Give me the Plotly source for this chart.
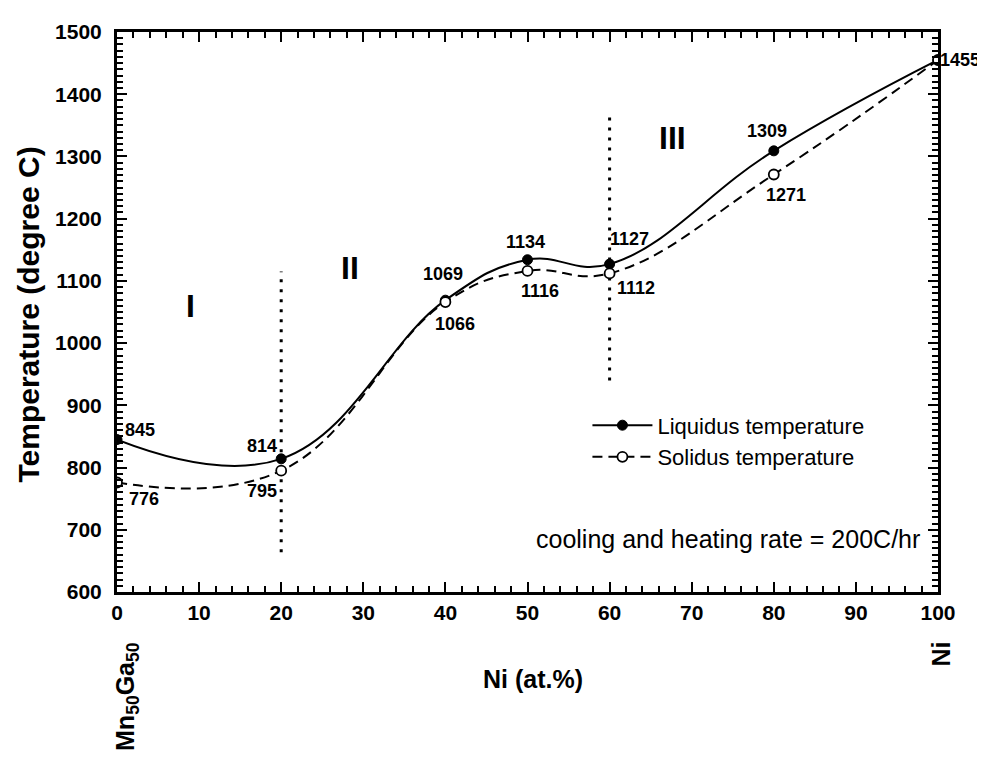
import plotly.graph_objects as go

# ---- data ----
ni_pct = [0, 20, 40, 50, 60, 80, 100]
liquidus = [845, 814, 1069, 1134, 1127, 1309, 1455]
solidus = [776, 795, 1066, 1116, 1112, 1271, 1455]

# label offsets (pixels) for value labels
liq_label_dx = [23, -19, -2, -2, 20, -7, None]
liq_label_dy = [10, 13, 26, 18, 25, 20, None]
sol_label_dx = [27, -19, 10, 12, 26, 12, 22]
sol_label_dy = [-17, -20, -22, -20, -15, -21, 0]

region_names = ["I", "II", "III"]
region_x = [8.9, 28.4, 67.6]
region_y = [1060, 1120, 1330]

divider_x = [20, 60]
divider_y0 = [664, 940]
divider_y1 = [1115, 1363]

x_ticks = [0, 10, 20, 30, 40, 50, 60, 70, 80, 90, 100]
y_ticks = [600, 700, 800, 900, 1000, 1100, 1200, 1300, 1400, 1500]

FONT = "Liberation Sans, Arial, sans-serif"

fig = go.Figure()

# divider dotted lines
for dx, y0, y1 in zip(divider_x, divider_y0, divider_y1):
    fig.add_trace(go.Scatter(
        x=[dx, dx], y=[y0, y1], mode="lines",
        line=dict(color="black", width=3, dash="3px,7px"),
        showlegend=False, hoverinfo="skip"))

fig.add_trace(go.Scatter(
    x=ni_pct, y=liquidus, mode="lines+markers", name="Liquidus temperature",
    line=dict(color="black", width=2, shape="spline", smoothing=1.2),
    marker=dict(symbol="circle", size=10, color="black",
                line=dict(color="black", width=1))))

fig.add_trace(go.Scatter(
    x=ni_pct, y=solidus, mode="lines+markers", name="Solidus temperature",
    line=dict(color="black", width=2, shape="spline", smoothing=1.2, dash="10px,6px"),
    marker=dict(symbol="circle", size=10, color="white",
                line=dict(color="black", width=1.8))))

annotations = []
for x, y, dx, dy in zip(ni_pct, liquidus, liq_label_dx, liq_label_dy):
    if dx is None:
        continue
    annotations.append(dict(x=x, y=y, xref="x", yref="y", text=str(y), showarrow=False,
                            xshift=dx, yshift=dy,
                            font=dict(family=FONT, size=18, color="black", weight="bold")))
for x, y, dx, dy in zip(ni_pct, solidus, sol_label_dx, sol_label_dy):
    annotations.append(dict(x=x, y=y, xref="x", yref="y", text=str(y), showarrow=False,
                            xshift=dx, yshift=dy,
                            font=dict(family=FONT, size=18, color="black", weight="bold")))

for name, x, y in zip(region_names, region_x, region_y):
    annotations.append(dict(x=x, y=y, xref="x", yref="y", text=name, showarrow=False,
                            font=dict(family=FONT, size=32, color="black", weight="bold")))

annotations += [
    dict(x=0.98, y=0.095, xref="paper", yref="paper", xanchor="right", yanchor="middle",
         text="cooling and heating rate = 200C/hr",
         showarrow=False, font=dict(family=FONT, size=25, color="black")),
    dict(x=-0.108, y=0.496, xref="paper", yref="paper", xanchor="center", yanchor="middle",
         text="Temperature (degree C)", textangle=-90,
         showarrow=False, font=dict(family=FONT, size=30, color="black", weight="bold")),
    dict(x=0.507, y=-0.155, xref="paper", yref="paper", xanchor="center", yanchor="middle",
         text="Ni (at.%)",
         showarrow=False, font=dict(family=FONT, size=25, color="black", weight="bold")),
    dict(x=0.012, y=-0.085, xref="paper", yref="paper", xanchor="center", yanchor="top",
         text="Mn<sub>50</sub>Ga<sub>50</sub>", textangle=-90,
         showarrow=False, font=dict(family=FONT, size=25, color="black", weight="bold")),
    dict(x=1.004, y=-0.111, xref="paper", yref="paper", xanchor="center", yanchor="middle",
         text="Ni", textangle=-90,
         showarrow=False, font=dict(family=FONT, size=25, color="black", weight="bold")),
]

axis_common = dict(
    showline=True, linecolor="black", linewidth=3, mirror="allticks",
    ticks="inside", ticklen=10, tickwidth=2, tickcolor="black",
    showgrid=False, zeroline=False,
    tickfont=dict(family=FONT, size=21, color="black", weight="bold"),
)

# page body has an 8px margin, so figure is 8px smaller than the window
fig.update_layout(
    width=977, height=755,
    margin=dict(l=109, r=47, t=18, b=171),
    paper_bgcolor="white", plot_bgcolor="white",
    xaxis=dict(range=[0, 100], tickvals=x_ticks,
               minor=dict(ticks="inside", dtick=2, ticklen=6, tickwidth=1.5, tickcolor="black"),
               **axis_common),
    yaxis=dict(range=[600, 1500], tickvals=y_ticks, ticklabelstandoff=8,
               minor=dict(ticks="inside", dtick=10, ticklen=6, tickwidth=1.5, tickcolor="black"),
               **axis_common),
    legend=dict(x=0.573, y=0.335, xanchor="left", yanchor="top", bgcolor="rgba(0,0,0,0)",
                itemwidth=60, font=dict(family=FONT, size=22, color="black"),
                tracegroupgap=0),
    annotations=annotations,
)

fig.write_html("out.html")
